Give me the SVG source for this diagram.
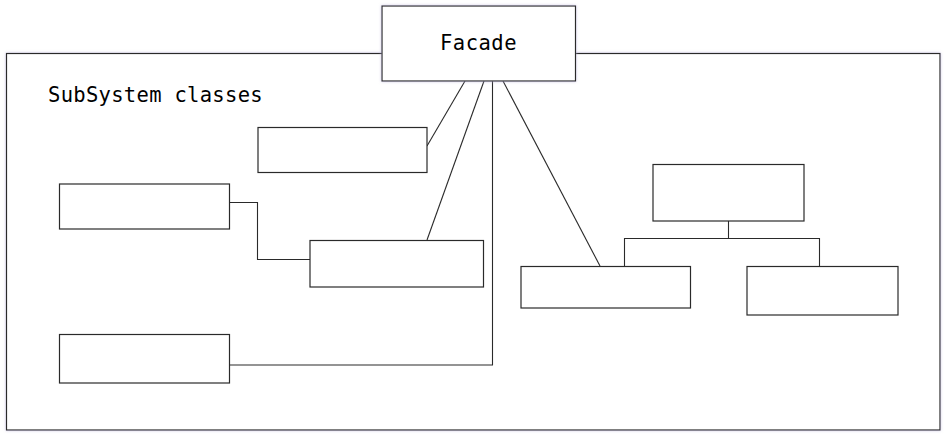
<svg xmlns="http://www.w3.org/2000/svg" width="947" height="437" viewBox="0 0 947 437">
<style>
.box{fill:#ffffff;stroke:#2a2a2a;stroke-width:1.2}
.ln{fill:none;stroke:#2a2a2a;stroke-width:1.1}
.lbl{font-family:"DejaVu Sans Mono","Liberation Mono",monospace;font-size:20.5px;fill:#000}
</style>
<defs>
<filter id="glow" x="-5%" y="-10%" width="110%" height="120%">
<feDropShadow dx="0" dy="0" stdDeviation="1.5" flood-color="#b8b0d8" flood-opacity="0.7"/>
</filter>
</defs>
<rect width="947" height="437" fill="#ffffff"/>
<g id="subsystem">
<rect class="box" x="6.5" y="53.5" width="933.5" height="376.5" filter="url(#glow)"/>
<text class="lbl" x="48" y="102" letter-spacing="0.3">SubSystem classes</text>
</g>
<g id="connectors">
<line class="ln" x1="465" y1="81" x2="427" y2="146"/>
<line class="ln" x1="484" y1="81" x2="427" y2="240"/>
<polyline class="ln" points="492.5,81 492.5,365 229,365"/>
<line class="ln" x1="503" y1="81" x2="600" y2="266"/>
<polyline class="ln" points="229,202.5 257.5,202.5 257.5,259.5 310,259.5"/>
<polyline class="ln" points="728.5,221 728.5,238.5"/>
<polyline class="ln" points="624.5,266 624.5,238.5 819.5,238.5 819.5,266"/>
</g>
<g id="facade">
<rect class="box" x="382" y="6" width="193.5" height="75" filter="url(#glow)"/>
<text class="lbl" x="478.5" y="50" text-anchor="middle" letter-spacing="0.5">Facade</text>
</g>
<g id="classA"><rect class="box" x="258" y="127.5" width="169" height="45"/></g>
<g id="classB"><rect class="box" x="59.5" y="184" width="170" height="45"/></g>
<g id="classC"><rect class="box" x="310" y="240.5" width="173.5" height="46.5"/></g>
<g id="classD"><rect class="box" x="59.5" y="334.5" width="170" height="48.5"/></g>
<g id="classE"><rect class="box" x="521" y="266.5" width="169.5" height="41.5"/></g>
<g id="classF"><rect class="box" x="653" y="164.5" width="151" height="56.5"/></g>
<g id="classG"><rect class="box" x="747" y="266.5" width="151" height="48.5"/></g>
</svg>
